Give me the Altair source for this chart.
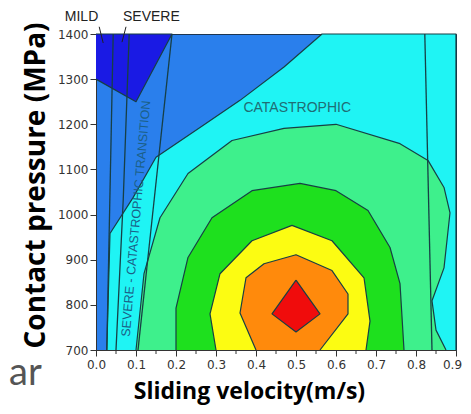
import altair as alt
import pandas as pd

# ---- data (sliding velocity m/s, contact pressure MPa) ----
cyan_x = [0.027, 0.035, 0.093, 0.15, 0.26, 0.36, 0.47, 0.565, 0.9, 0.9]
cyan_y = [700, 958, 1038, 1127, 1193, 1253, 1327, 1400, 1400, 700]

dark_x = [0.0, 0.19, 0.10, 0.0]
dark_y = [1400, 1400, 1250, 1300]

lgreen_x = [0.10, 0.12, 0.16, 0.23, 0.34, 0.47, 0.60, 0.76, 0.83, 0.87, 0.885, 0.87, 0.84, 0.85, 0.875]
lgreen_y = [700, 869, 993, 1091, 1164, 1191, 1200, 1157, 1120, 1060, 1004, 882, 809, 744, 700]

green_x = [0.20, 0.20, 0.23, 0.29, 0.39, 0.51, 0.60, 0.68, 0.735, 0.76, 0.77]
green_y = [700, 793, 905, 993, 1053, 1069, 1053, 1009, 927, 847, 700]

yellow_x = [0.30, 0.285, 0.31, 0.39, 0.49, 0.59, 0.67, 0.685, 0.675]
yellow_y = [700, 780, 869, 942, 976, 942, 860, 764, 700]

orange_x = [0.40, 0.36, 0.375, 0.42, 0.50, 0.59, 0.63, 0.63, 0.56]
orange_y = [700, 782, 860, 891, 911, 876, 824, 780, 700]

red_x = [0.50, 0.56, 0.50, 0.44, 0.50]
red_y = [855, 780, 740, 780, 855]

# regime-boundary lines
line_ids = ["L1", "L1", "L2", "L2", "L2", "L3", "L3", "L4", "L4"]
line_x = [0.043, 0.027, 0.083, 0.068, 0.05, 0.19, 0.105, 0.822, 0.84]
line_y = [1400, 700, 1400, 1031, 700, 1400, 700, 1400, 700]
line_order = [0, 1, 0, 1, 2, 0, 1, 0, 1]

# leader lines from the MILD / SEVERE labels
leader_ids = ["m", "m", "s", "s"]
leader_x = [0.008, 0.018, 0.075, 0.065]
leader_y = [1416, 1380, 1416, 1382]

x_ticks = [0.0, 0.1, 0.2, 0.3, 0.4, 0.5, 0.6, 0.7, 0.8, 0.9]
x_minor = [0.05, 0.15, 0.25, 0.35, 0.45, 0.55, 0.65, 0.75, 0.85]
y_ticks = [700, 800, 900, 1000, 1100, 1200, 1300, 1400]

top_labels = ["MILD", "SEVERE"]
top_label_x = [-0.078, 0.0675]
top_label_y = [1437, 1437]

EDGE = "#173f45"

xs = alt.Scale(domain=[0, 0.9], nice=False, zero=False)
ys = alt.Scale(domain=[700, 1400], nice=False, zero=False)

x_axis = alt.Axis(
    values=x_ticks, format=".1f", tickSize=6, labelOverlap=False,
    labelOffset={"condition": {"test": "datum.value > 0.85", "value": -4}, "value": 0},
    labelFont="DejaVu Sans", labelFontSize=12, labelColor="#333", labelPadding=3,
    tickColor="#333", domainColor="#333", grid=False, labelFlush=False,
    title="Sliding velocity(m/s)", titleFont="Open Sans", titleFontSize=23,
    titleFontWeight="bold", titleColor="#000", titleX=153, titleY=48,
    titleAlign="center", titleBaseline="alphabetic",
)
y_axis = alt.Axis(
    values=y_ticks, format="d", tickSize=6, labelOverlap=False,
    labelFont="DejaVu Sans", labelFontSize=12, labelColor="#333", labelPadding=2,
    tickColor="#333", domainColor="#333", grid=False,
    title="Contact pressure (MPa)", titleFont="Open Sans", titleFontSize=28,
    titleFontWeight="bold", titleColor="#000", titleX=-52, titleY=151,
    titleAngle=270, titleAlign="center", titleBaseline="alphabetic",
)


def X():
    return alt.X("x:Q", scale=xs, axis=x_axis)


def Y():
    return alt.Y("y:Q", scale=ys, axis=y_axis)


def poly(xv, yv, color, sw=1.2):
    df = pd.DataFrame({"x": xv, "y": yv, "i": list(range(len(xv)))})
    return alt.Chart(df).mark_line(fill=color, stroke=EDGE, strokeWidth=sw, strokeJoin="round").encode(
        x=X(), y=Y(), order=alt.Order("i:Q"),
    )


layers = [
    poly(cyan_x, cyan_y, "#1ff4f4"),
    poly(dark_x, dark_y, "#1a1ae4"),
    poly(lgreen_x, lgreen_y, "#3ef08c"),
    poly(green_x, green_y, "#1ee01e"),
    poly(yellow_x, yellow_y, "#fcfc12"),
    poly(orange_x, orange_y, "#ff8a0c"),
    poly(red_x, red_y, "#f00c0c"),
]

lines_df = pd.DataFrame({"id": line_ids, "x": line_x, "y": line_y, "i": line_order})
layers.append(
    alt.Chart(lines_df).mark_line(color=EDGE, strokeWidth=1.3).encode(
        x=X(), y=Y(), detail="id:N", order=alt.Order("i:Q")
    )
)

# minor ticks on the x axis
minor_df = pd.DataFrame({"x": x_minor})
layers.append(
    alt.Chart(minor_df).mark_rule(color="#333", strokeWidth=1).encode(
        x=X(), y=alt.value(316), y2=alt.value(320)
    )
)

leader_df = pd.DataFrame({"id": leader_ids, "x": leader_x, "y": leader_y})
layers.append(
    alt.Chart(leader_df).mark_line(color="#222", strokeWidth=1).encode(
        x=X(), y=Y(), detail="id:N"
    )
)

top_df = pd.DataFrame({"t": top_labels, "x": top_label_x, "y": top_label_y})
layers.append(
    alt.Chart(top_df).mark_text(font="Liberation Sans", fontSize=14, color="#222", align="left",
                                baseline="middle").encode(
        x=X(), y=Y(), text="t:N"
    )
)

cat_df = pd.DataFrame({"t": ["CATASTROPHIC"], "x": [0.503], "y": [1236]})
layers.append(
    alt.Chart(cat_df).mark_text(font="Liberation Sans", fontSize=14, color="#1f6d74",
                                baseline="middle").encode(
        x=X(), y=Y(), text="t:N"
    )
)

tr_df = pd.DataFrame({"t": ["SEVERE - CATASTROPHIC TRANSITION"], "x": [0.1], "y": [991]})
layers.append(
    alt.Chart(tr_df).mark_text(font="Liberation Sans", fontSize=12.5, color="#1b5f87", angle=275,
                               baseline="middle").encode(
        x=X(), y=Y(), text="t:N"
    )
)

ar_df = pd.DataFrame({"t": ["ar"]})
layers.append(
    alt.Chart(ar_df).mark_text(font="Lato", fontSize=38, color="#555", align="left",
                               baseline="alphabetic").encode(
        x=alt.value(-87), y=alt.value(351), text="t:N"
    )
)

chart = alt.layer(*layers).properties(
    width=360, height=316,
    autosize=alt.AutoSizeParams(type="none"),
    padding={"left": 88, "top": 26, "right": 7, "bottom": 56},
).configure_view(fill="#2a7fec", stroke="#1d3550", strokeWidth=1).configure_axis(labelOverlap=False)

chart.save("out.html", embed_options={"renderer": "svg", "actions": False})
